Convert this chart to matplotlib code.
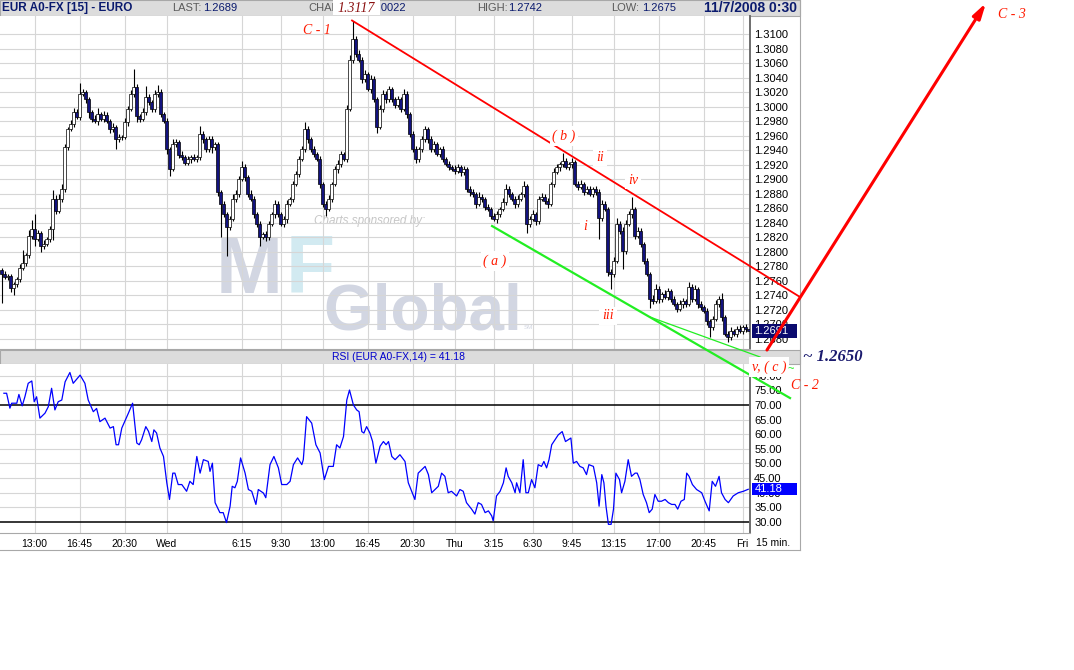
import numpy as np
import matplotlib.pyplot as plt
from matplotlib.patches import Rectangle
from matplotlib.lines import Line2D

plt.rcParams['font.family'] = ['Liberation Sans', 'DejaVu Sans']
SERIF = ['Liberation Serif', 'DejaVu Serif']

# ---- data -----------------------------------------------------------
# EUR A0-FX, 15 min bars, Tue 10:15 .. Fri 00:30
# time axis in hours counted from Tue 00:00
bar_start = 10.25
bar_len = 0.25
first_open = 2775

# closes in pips (2770 -> 1.2770)
close_pips = [
    2770, 2765, 2767, 2750, 2755, 2762, 2778, 2785, 2795, 2822, 2832, 2818, 2826, 2808, 2811, 2818, 2832, 2873, 2856, 2873, 2886, 2944, 2969, 2976, 2993,
    2986, 3018, 3020, 3010, 2993, 2983, 2980, 2990, 2983, 2988, 2980, 2969, 2972, 2955, 2958, 2958, 2979, 2997, 3017, 3027, 2987, 2983, 2993, 3013, 3006,
    2997, 3017, 3020, 2990, 2980, 2941, 2914, 2948, 2951, 2934, 2930, 2923, 2928, 2930, 2928, 2930, 2962, 2955, 2941, 2955, 2944, 2948, 2882, 2866, 2852,
    2834, 2845, 2873, 2880, 2900, 2917, 2903, 2880, 2873, 2852, 2838, 2820, 2824, 2820, 2838, 2852, 2866, 2852, 2838, 2845, 2866, 2873, 2893, 2907, 2928,
    2941, 2969, 2955, 2941, 2935, 2928, 2893, 2866, 2859, 2873, 2893, 2914, 2921, 2935, 2928, 2997, 3065, 3093, 3072, 3065, 3038, 3045, 3024, 3038, 3010,
    2972, 2997, 3017, 3010, 3024, 3010, 3003, 3010, 2997, 3017, 2990, 2962, 2941, 2928, 2941, 2955, 2969, 2955, 2941, 2948, 2935, 2941, 2928, 2921, 2917,
    2914, 2911, 2917, 2910, 2914, 2886, 2882, 2880, 2866, 2876, 2873, 2862, 2859, 2849, 2845, 2852, 2859, 2869, 2886, 2880, 2873, 2866, 2873, 2880, 2891,
    2838, 2845, 2852, 2842, 2873, 2876, 2870, 2866, 2893, 2910, 2917, 2921, 2925, 2917, 2921, 2924, 2893, 2889, 2893, 2883, 2886, 2880, 2886, 2883, 2847,
    2866, 2859, 2772, 2769, 2787, 2838, 2829, 2801, 2838, 2852, 2859, 2822, 2829, 2811, 2787, 2769, 2735, 2732, 2749, 2735, 2742, 2738, 2746, 2735, 2728,
    2721, 2728, 2732, 2728, 2752, 2735, 2749, 2728, 2724, 2718, 2704, 2696, 2707, 2728, 2735, 2710, 2687, 2683, 2691, 2687, 2694, 2691, 2696, 2693, 2691,
]
# wick length above / below the body, pips
wick_up = [
    3, 4, 3, 2, 4, 3, 5, 18, 4, 8, 12, 20, 4, 3, 5, 3, 4, 12, 5, 6, 8, 4, 3, 5, 5,
    4, 14, 5, 3, 4, 3, 5, 8, 3, 6, 4, 3, 5, 3, 4, 3, 5, 4, 6, 25, 4, 3, 5, 15, 4,
    3, 6, 10, 4, 3, 5, 3, 8, 4, 3, 5, 3, 4, 3, 5, 4, 12, 4, 3, 5, 4, 3, 4, 3, 4,
    3, 4, 6, 5, 4, 8, 4, 3, 5, 4, 3, 4, 3, 5, 4, 3, 5, 4, 3, 4, 5, 3, 4, 5, 4,
    5, 10, 4, 3, 5, 3, 4, 3, 4, 5, 3, 4, 5, 4, 3, 5, 6, 25, 4, 6, 4, 5, 3, 6, 4,
    3, 5, 6, 4, 5, 3, 4, 5, 3, 8, 4, 3, 4, 5, 3, 4, 5, 3, 4, 5, 3, 4, 5, 3, 4,
    3, 5, 4, 3, 4, 3, 5, 4, 3, 6, 4, 3, 4, 3, 5, 4, 3, 5, 8, 4, 3, 4, 5, 3, 6,
    3, 4, 5, 3, 4, 5, 3, 4, 3, 5, 4, 3, 11, 4, 3, 5, 3, 4, 6, 3, 4, 5, 3, 4, 3,
    5, 4, 3, 4, 6, 8, 4, 5, 6, 4, 16, 3, 5, 4, 3, 4, 3, 5, 6, 4, 3, 5, 4, 3, 4,
    3, 5, 4, 3, 6, 4, 5, 3, 4, 3, 4, 3, 5, 6, 4, 8, 3, 4, 6, 3, 4, 5, 3, 4, 3,
]
wick_dn = [
    40, 3, 4, 6, 10, 3, 4, 3, 5, 3, 4, 10, 3, 8, 4, 3, 4, 16, 4, 3, 5, 3, 4, 3, 4,
    3, 4, 3, 5, 8, 4, 3, 5, 3, 4, 3, 5, 4, 14, 3, 4, 3, 5, 3, 4, 8, 4, 3, 4, 3,
    5, 4, 3, 4, 3, 6, 10, 3, 4, 5, 3, 4, 3, 5, 3, 4, 3, 5, 4, 3, 8, 4, 5, 45, 4,
    40, 4, 3, 5, 4, 3, 5, 4, 3, 5, 4, 12, 3, 5, 4, 3, 5, 4, 3, 4, 5, 3, 4, 3, 4,
    3, 4, 5, 3, 4, 3, 5, 4, 10, 3, 4, 3, 5, 4, 3, 4, 3, 5, 4, 3, 5, 4, 3, 5, 4,
    8, 3, 4, 5, 3, 4, 5, 3, 4, 3, 5, 4, 3, 6, 4, 3, 4, 5, 3, 4, 3, 5, 4, 3, 4,
    3, 4, 3, 5, 4, 3, 5, 4, 6, 3, 4, 5, 3, 4, 3, 6, 4, 3, 5, 4, 3, 5, 4, 3, 4,
    12, 4, 3, 5, 4, 3, 4, 5, 3, 4, 3, 5, 4, 3, 4, 5, 3, 4, 3, 5, 4, 3, 4, 5, 30,
    4, 3, 5, 20, 4, 3, 5, 25, 4, 3, 5, 4, 3, 5, 4, 3, 12, 4, 3, 5, 4, 3, 5, 4, 3,
    4, 3, 5, 4, 3, 4, 3, 5, 4, 3, 5, 14, 4, 3, 4, 5, 3, 8, 4, 3, 5, 3, 4, 3, 4,
]

tick_hours = [13, 16.75, 20.5, 24, 30.25, 33.5, 37, 40.75, 44.5, 48, 51.25, 54.5, 57.75, 61.25, 65, 68.75, 72]
tick_labels = ['13:00', '16:45', '20:30', 'Wed', '6:15', '9:30', '13:00', '16:45', '20:30',
               'Thu', '3:15', '6:30', '9:45', '13:15', '17:00', '20:45', 'Fri']

# RSI(14): (bar number, value)
rsi_points = [
    (0.8, 74), (1.7, 74), (2.8, 68.9), (3.4, 70.6), (5.1, 70.6), (5.8, 73.6), (6.9, 69.7), (7.8, 72.8), (8.9, 77.4), (10.1, 78.2),
    (10.9, 71.1), (11.7, 72.8), (12.8, 65.5), (14.5, 67.2), (15.6, 69.4), (16.7, 75.7), (17.8, 68.3), (18.9, 71.1), (20.1, 71.7), (21.2, 77.9),
    (22.8, 81.1), (23.9, 77.4), (26.2, 80.2), (27.8, 77.4), (28.9, 71.7), (30.6, 67.7), (31.7, 68.8), (32.8, 64.3), (34.5, 65.5), (36.2, 62.1),
    (37.3, 62.6), (38.2, 56.4), (39.0, 56.4), (40.1, 62.1), (42.3, 67.2), (43.7, 70.6), (45.1, 57), (45.9, 56.4), (46.7, 58.1), (48.1, 62.6),
    (49.0, 61), (50.1, 57.5), (50.8, 61.5), (51.7, 60.4), (52.8, 55.3), (54.0, 52.4), (55.1, 43.4), (56.0, 37.7), (57.1, 46.7), (57.8, 46.7),
    (58.9, 42.8), (60.1, 42.8), (61.7, 40.5), (62.8, 43.9), (63.9, 42.8), (65.1, 52.4), (66.2, 46.7), (67.3, 51.3), (68.9, 50.7), (69.5, 47.3),
    (70.3, 50.1), (71.2, 36.6), (72.8, 33.2), (73.9, 33.2), (75.0, 29.8), (76.2, 35.4), (76.9, 42.2), (77.8, 41.7), (78.6, 43.9), (79.7, 51.9),
    (81.2, 46.7), (82.3, 41.1), (83.4, 40.5), (84.8, 36), (85.6, 41.1), (87.3, 39.9), (88.1, 38.3), (89.5, 49.6), (90.8, 52.4), (92.3, 48.5),
    (93.4, 42.8), (95.1, 42.8), (96.2, 43.9), (97.3, 49.6), (98.7, 51.9), (100.1, 49.6), (100.6, 51.3), (101.7, 66), (103.4, 63.8), (104.8, 56.4),
    (106.2, 53.6), (107.6, 44.5), (109.0, 49), (110.6, 49), (111.7, 56.4), (112.8, 55.3), (114.0, 59.2), (115.1, 71.7), (116.0, 75.1), (117.3, 70),
    (118.4, 68.3), (119.2, 67.7), (120.1, 60.9), (120.8, 60.4), (121.7, 62.6), (122.8, 60.4), (123.7, 57.5), (124.8, 50.1), (126.2, 55.9), (127.3, 57.5),
    (128.2, 56.4), (129.0, 57.5), (130.1, 52.4), (131.2, 51.3), (132.8, 53), (134.5, 50.7), (135.6, 43.4), (136.7, 40.5), (137.8, 37.7), (138.9, 46.7),
    (141.2, 49), (142.3, 46.2), (143.4, 40), (144.5, 41.1), (145.6, 42.2), (146.7, 46.7), (147.8, 45.6), (148.9, 40), (150.0, 40.5), (151.7, 38.9),
    (152.8, 41.1), (153.9, 40.5), (155.0, 36.6), (156.7, 34.4), (157.8, 32.7), (158.9, 36.6), (160.0, 36), (161.2, 33.2), (162.3, 33.8), (163.4, 32.1),
    (163.9, 30.4), (165.0, 38.9), (166.2, 40.5), (167.3, 43.4), (168.2, 48.5), (168.9, 45.6), (170.1, 43.4), (171.2, 40), (171.7, 43.4), (172.8, 40),
    (173.9, 51.3), (174.8, 40), (175.6, 40), (176.7, 44.5), (177.8, 41.7), (178.9, 49.6), (180.0, 49), (180.8, 50.7), (181.7, 48.5), (182.5, 51.3),
    (183.4, 56.4), (184.5, 58.1), (185.6, 59.8), (186.9, 60.9), (188.0, 57.5), (188.9, 58.1), (189.8, 58.7), (190.6, 50.1), (191.7, 50.7), (192.8, 49),
    (193.9, 48.5), (195.0, 46.2), (195.8, 49.6), (197.3, 49), (198.4, 43.4), (199.2, 35.4), (200.1, 46.2), (200.8, 43.4), (201.5, 35.4), (202.3, 29.2),
    (203.2, 29.2), (204.0, 34.4), (204.8, 46.7), (206.0, 44.5), (206.7, 40), (207.8, 43.9), (208.9, 51.3), (210.0, 45.6), (211.2, 46.7), (211.9, 46.7),
    (212.8, 44.5), (213.9, 39.4), (215.0, 36.6), (215.9, 33.2), (216.9, 34.4), (217.8, 39.4), (218.9, 37.1), (220.0, 37.1), (221.2, 37.7), (222.3, 36.6),
    (223.4, 36), (224.5, 36), (225.4, 34.4), (226.5, 37.1), (227.6, 37.7), (228.4, 46.7), (229.2, 45.6), (230.3, 42.8), (231.7, 41.1), (233.4, 40),
    (234.5, 37.1), (235.9, 33.8), (236.9, 43.9), (238.0, 42.2), (239.2, 45.6), (240.0, 40), (241.2, 37.7), (242.3, 36.6), (243.9, 38.9), (245.6, 40),
    (247.3, 40.5), (248.9, 41.18),
]

last_price = 1.2691
last_rsi = 41.18

# hand drawn analysis, (hour, price) end points
upper_channel = [(39.46, 1.31188), (76.79, 1.27377)]
lower_channel = [(51.13, 1.28355), (75.96, 1.25984)]
lower_channel2 = [(64.29, 1.27101), (73.46, 1.26550)]
c3_arrow = [(74.04, 1.26646), (92.29, 1.31430)]
wave_labels = [
    ('C - 1', 36.54, 1.31057, False),
    ('( b )', 57.13, 1.29596, True),
    ('ii', 60.13, 1.29306, True),
    ('iv', 62.88, 1.28989, True),
    ('i', 58.88, 1.28355, True),
    ('( a )', 51.38, 1.27873, True),
    ('iii', 60.79, 1.27115, True),
    ('v, ( c )', 74.21, 1.26412, True),
    ('C - 2', 77.21, 1.26150, False),
    ('C - 3', 94.46, 1.31277, False),
]

# ---- figure ---------------------------------------------------------
W, H = 1074, 670
fig = plt.figure(figsize=(W / 100, H / 100), dpi=100)
navy = '#0A1A6E'
grid_c = '#D6D6D6'
bar_gray = '#DCDCDC'
edge_gray = '#A8A8A8'


def box(x0, y0, x1, y1):
    return [x0 / W, 1 - y1 / H, (x1 - x0) / W, (y1 - y0) / H]


def fig_rect(x0, y0, x1, y1, **kw):
    fig.add_artist(Rectangle((x0 / W, 1 - y1 / H), (x1 - x0) / W, (y1 - y0) / H,
                             transform=fig.transFigure, **kw))


def fig_line(xs, ys, **kw):
    fig.add_artist(Line2D([x / W for x in xs], [1 - y / H for y in ys],
                          transform=fig.transFigure, **kw))


def ftext(x, y, s, **kw):
    fig.text(x / W, 1 - y / H, s, va='center', **kw)


# header
fig_rect(0, 0, 800, 15.5, fc=bar_gray, ec=edge_gray, lw=0.8, zorder=1)
ftext(2, 8, 'EUR A0-FX [15] - EURO', fontsize=8.5, fontweight='bold', color=navy)
for lab, val, x in [('LAST:', '1.2689', 172), ('CHANGE:', '-0.0022', 308),
                    ('HIGH:', '1.2742', 477), ('LOW:', '1.2675', 611)]:
    ftext(x, 8, lab, fontsize=8, color='#5A5A5A')
    ftext(x + (31 if lab != 'CHANGE:' else 60), 8, val, fontsize=8, color=navy)
ftext(797, 8, '11/7/2008 0:30', fontsize=10, fontweight='bold', color=navy, ha='right')
fig_rect(333, 0.5, 380, 15, fc='white', ec='none', zorder=6)
ftext(356, 8, '1.3117', fontsize=10, family=SERIF, style='italic', color='#8B1010',
      ha='center', zorder=7)

# RSI header bar
fig_rect(0, 350, 800, 364, fc=bar_gray, ec=edge_gray, lw=0.8, zorder=1)
ftext(399, 357, 'RSI (EUR A0-FX,14) = 41.18', fontsize=7.5, color='#0000CC', ha='center', zorder=2)

# frame lines
fig_line([0, 800], [549.5, 549.5], color=edge_gray, lw=0.8)
fig_line([799.5, 799.5], [0, 550], color=edge_gray, lw=0.8)
ftext(773, 543, '15 min.', fontsize=7.5, color='black', ha='center')

# ---- price panel ------------------------------------------------------
closes = np.array(close_pips) / 10000 + 1
opens = np.r_[first_open / 10000 + 1, closes[:-1]]
highs = np.maximum(opens, closes) + np.array(wick_up) / 10000
lows = np.minimum(opens, closes) - np.array(wick_dn) / 10000
times = bar_start + bar_len * np.arange(len(closes))

ax = fig.add_axes(box(0, 16, 750, 349), zorder=5)
ax.set_xlim(10.125, 72.625)
ax.set_ylim(1.26660, 1.31250)
for p in np.arange(1.2680, 1.3101, 0.002):
    ax.axhline(p, color=grid_c, lw=0.8, zorder=0.5)
for t in tick_hours:
    ax.axvline(t, color=grid_c, lw=0.8, zorder=0.5)

# sponsor watermark
wm = '#D2D6E2'
ax.text(40.96, 1.28424, 'Charts sponsored by:', fontsize=8.5, style='italic', color='#C6C6C6',
        ha='center', va='center', zorder=0.3)
ax.text(28.125, 1.27432, 'M', fontsize=58, fontweight='bold', color=wm, va='baseline', zorder=0.3)
ax.text(33.96, 1.27432, 'F', fontsize=58, fontweight='bold', color='#D2EAF1', va='baseline', zorder=0.3)
ax.text(37.04, 1.26922, 'Global', fontsize=46, fontweight='bold', color=wm, va='baseline', zorder=0.3)
ax.text(53.75, 1.26936, 'SM', fontsize=4.5, color=wm, va='baseline', zorder=0.3)

# candles
ax.vlines(times, lows, highs, color='black', lw=0.8, zorder=2)
body_c = ['white' if c >= o else '#12127E' for o, c in zip(opens, closes)]
ax.bar(times, np.abs(closes - opens), bottom=np.minimum(opens, closes), width=0.23,
       color=body_c, edgecolor='black', linewidth=0.5, zorder=3)

ax.set_xticks([])
ax.yaxis.tick_right()
price_ticks = np.arange(1.2680, 1.3101, 0.002)
ax.set_yticks(price_ticks)
ax.set_yticklabels([f'{p:.4f}' for p in price_ticks])
ax.tick_params(axis='y', length=0, pad=3, labelsize=8)
for s in ['left', 'top']:
    ax.spines[s].set_visible(False)
ax.spines['bottom'].set_color(edge_gray)
ax.spines['right'].set_color('#6E6E6E')
ax.spines['right'].set_linewidth(1.4)

ax.add_patch(Rectangle((1.0027, last_price - 0.00097), 0.06, 0.00194, transform=ax.get_yaxis_transform(),
                       fc='#0A0A6E', ec='none', clip_on=False, zorder=6))
ax.text(1.006, last_price, f'{last_price:.4f}', transform=ax.get_yaxis_transform(),
        color='white', fontsize=8, va='center', zorder=7)

# ---- RSI panel --------------------------------------------------------
ax2 = fig.add_axes(box(0, 364, 750, 533), zorder=2)
ax2.set_xlim(10.125, 72.625)
ax2.set_ylim(26.24, 84.0)
rsi_ticks = np.arange(30, 80.1, 5)
for v in rsi_ticks:
    if v in (30, 70):
        ax2.axhline(v, color='black', lw=1.1, zorder=1)
    else:
        ax2.axhline(v, color=grid_c, lw=0.8, zorder=0.5)
for t in tick_hours:
    ax2.axvline(t, color=grid_c, lw=0.8, zorder=0.5)
rsi_bar = np.array([p[0] for p in rsi_points])
rsi_val = [p[1] for p in rsi_points]
ax2.plot(bar_start + bar_len * rsi_bar, rsi_val, color='#0000FF', lw=0.9, zorder=3)

ax2.set_xticks(tick_hours)
ax2.set_xticklabels(tick_labels)
ax2.tick_params(axis='x', length=0, pad=4, labelsize=7.5)
ax2.yaxis.tick_right()
ax2.set_yticks(rsi_ticks)
ax2.set_yticklabels([f'{v:.2f}' for v in rsi_ticks])
ax2.tick_params(axis='y', length=0, pad=3, labelsize=8)
for s in ['left', 'top']:
    ax2.spines[s].set_visible(False)
ax2.spines['bottom'].set_color(edge_gray)
ax2.spines['right'].set_color('#6E6E6E')
ax2.spines['right'].set_linewidth(1.4)
ax2.add_patch(Rectangle((1.0027, last_rsi - 2.05), 0.06, 4.1, transform=ax2.get_yaxis_transform(),
                        fc='#0000FF', ec='none', clip_on=False, zorder=6))
ax2.text(1.006, last_rsi, f'{last_rsi:.2f}', transform=ax2.get_yaxis_transform(),
         color='white', fontsize=8, va='center', zorder=7)

# ---- hand drawn analysis ----------------------------------------------
for seg, col, lw in [(upper_channel, '#FF0000', 1.3), (lower_channel, '#22EE22', 1.6),
                     (lower_channel2, '#22EE22', 0.9)]:
    ax.plot([seg[0][0], seg[1][0]], [seg[0][1], seg[1][1]], color=col, lw=lw,
            clip_on=False, zorder=8)
ax.annotate('', xy=c3_arrow[1], xytext=c3_arrow[0],
            arrowprops=dict(arrowstyle='-|>,head_length=0.9,head_width=0.25', color='#FF0000',
                            lw=2.2, shrinkA=0, shrinkB=0),
            annotation_clip=False, zorder=9)
for s, t, p, boxed in wave_labels:
    ax.text(t, p, s, family=SERIF, style='italic', color='#FF1A00', fontsize=10,
            ha='center', va='center', zorder=9,
            bbox=dict(fc='white', ec='none', pad=2) if boxed else None)
ax.text(76.04, 1.26384, '~', color='#22EE22', fontsize=8, ha='center', va='center', zorder=9)
ax.text(77.04, 1.26550, '~ 1.2650', family=SERIF, style='italic', fontweight='bold',
        color='#1A1A6E', fontsize=12, ha='left', va='center', zorder=9)

fig.savefig('out.png', dpi=100)
